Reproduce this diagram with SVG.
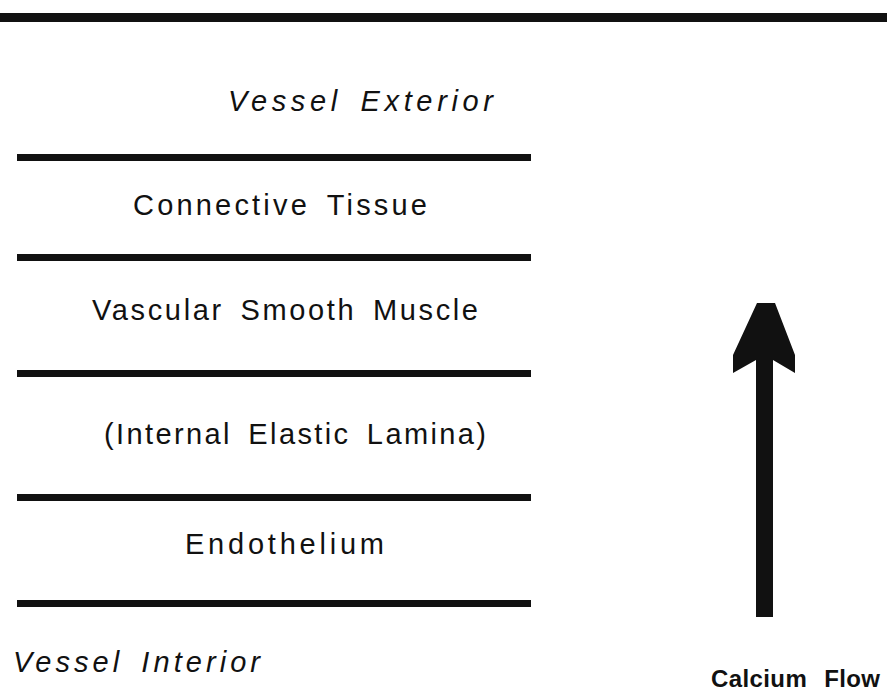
<svg xmlns="http://www.w3.org/2000/svg" width="887" height="695" viewBox="0 0 887 695">
<style>
.t{font-family:"Liberation Sans",Arial,sans-serif;font-size:29px;fill:#111;word-spacing:6px;}
.i{font-style:italic;}
.b{font-weight:bold;font-size:24px;word-spacing:10px;}
.ln{fill:#111;}
</style>
<rect x="0" y="0" width="887" height="695" fill="#fff"/>
<g id="top-bar"><rect class="ln" x="0" y="13" width="887" height="9"/></g>
<g id="layers">
<rect class="ln" x="17" y="154" width="514" height="7"/>
<rect class="ln" x="17" y="254" width="514" height="7"/>
<rect class="ln" x="17" y="370" width="514" height="7"/>
<rect class="ln" x="17" y="494" width="514" height="7"/>
<rect class="ln" x="17" y="600" width="514" height="7"/>
</g>
<g id="vessel-exterior"><text class="t i" x="228" y="111" textLength="265" lengthAdjust="spacing">Vessel Exterior</text></g>
<g id="connective-tissue"><text class="t" x="133" y="215" textLength="294" lengthAdjust="spacing">Connective Tissue</text></g>
<g id="vascular-smooth-muscle"><text class="t" x="92" y="320" textLength="386" lengthAdjust="spacing">Vascular Smooth Muscle</text></g>
<g id="internal-elastic-lamina"><text class="t" x="104" y="444" textLength="382" lengthAdjust="spacing">(Internal Elastic Lamina)</text></g>
<g id="endothelium"><text class="t" x="185" y="554" textLength="199" lengthAdjust="spacing">Endothelium</text></g>
<g id="vessel-interior"><text class="t i" x="13" y="672" textLength="247" lengthAdjust="spacing">Vessel Interior</text></g>
<g id="calcium-flow"><text class="t b" x="711" y="687" textLength="169" lengthAdjust="spacing">Calcium Flow</text></g>
<g id="connectors">
<polygon class="ln" points="757,303 775,303 795,355 795,373 773,360 773,617 756,617 756,360 733,373 733,355"/>
</g>
</svg>
